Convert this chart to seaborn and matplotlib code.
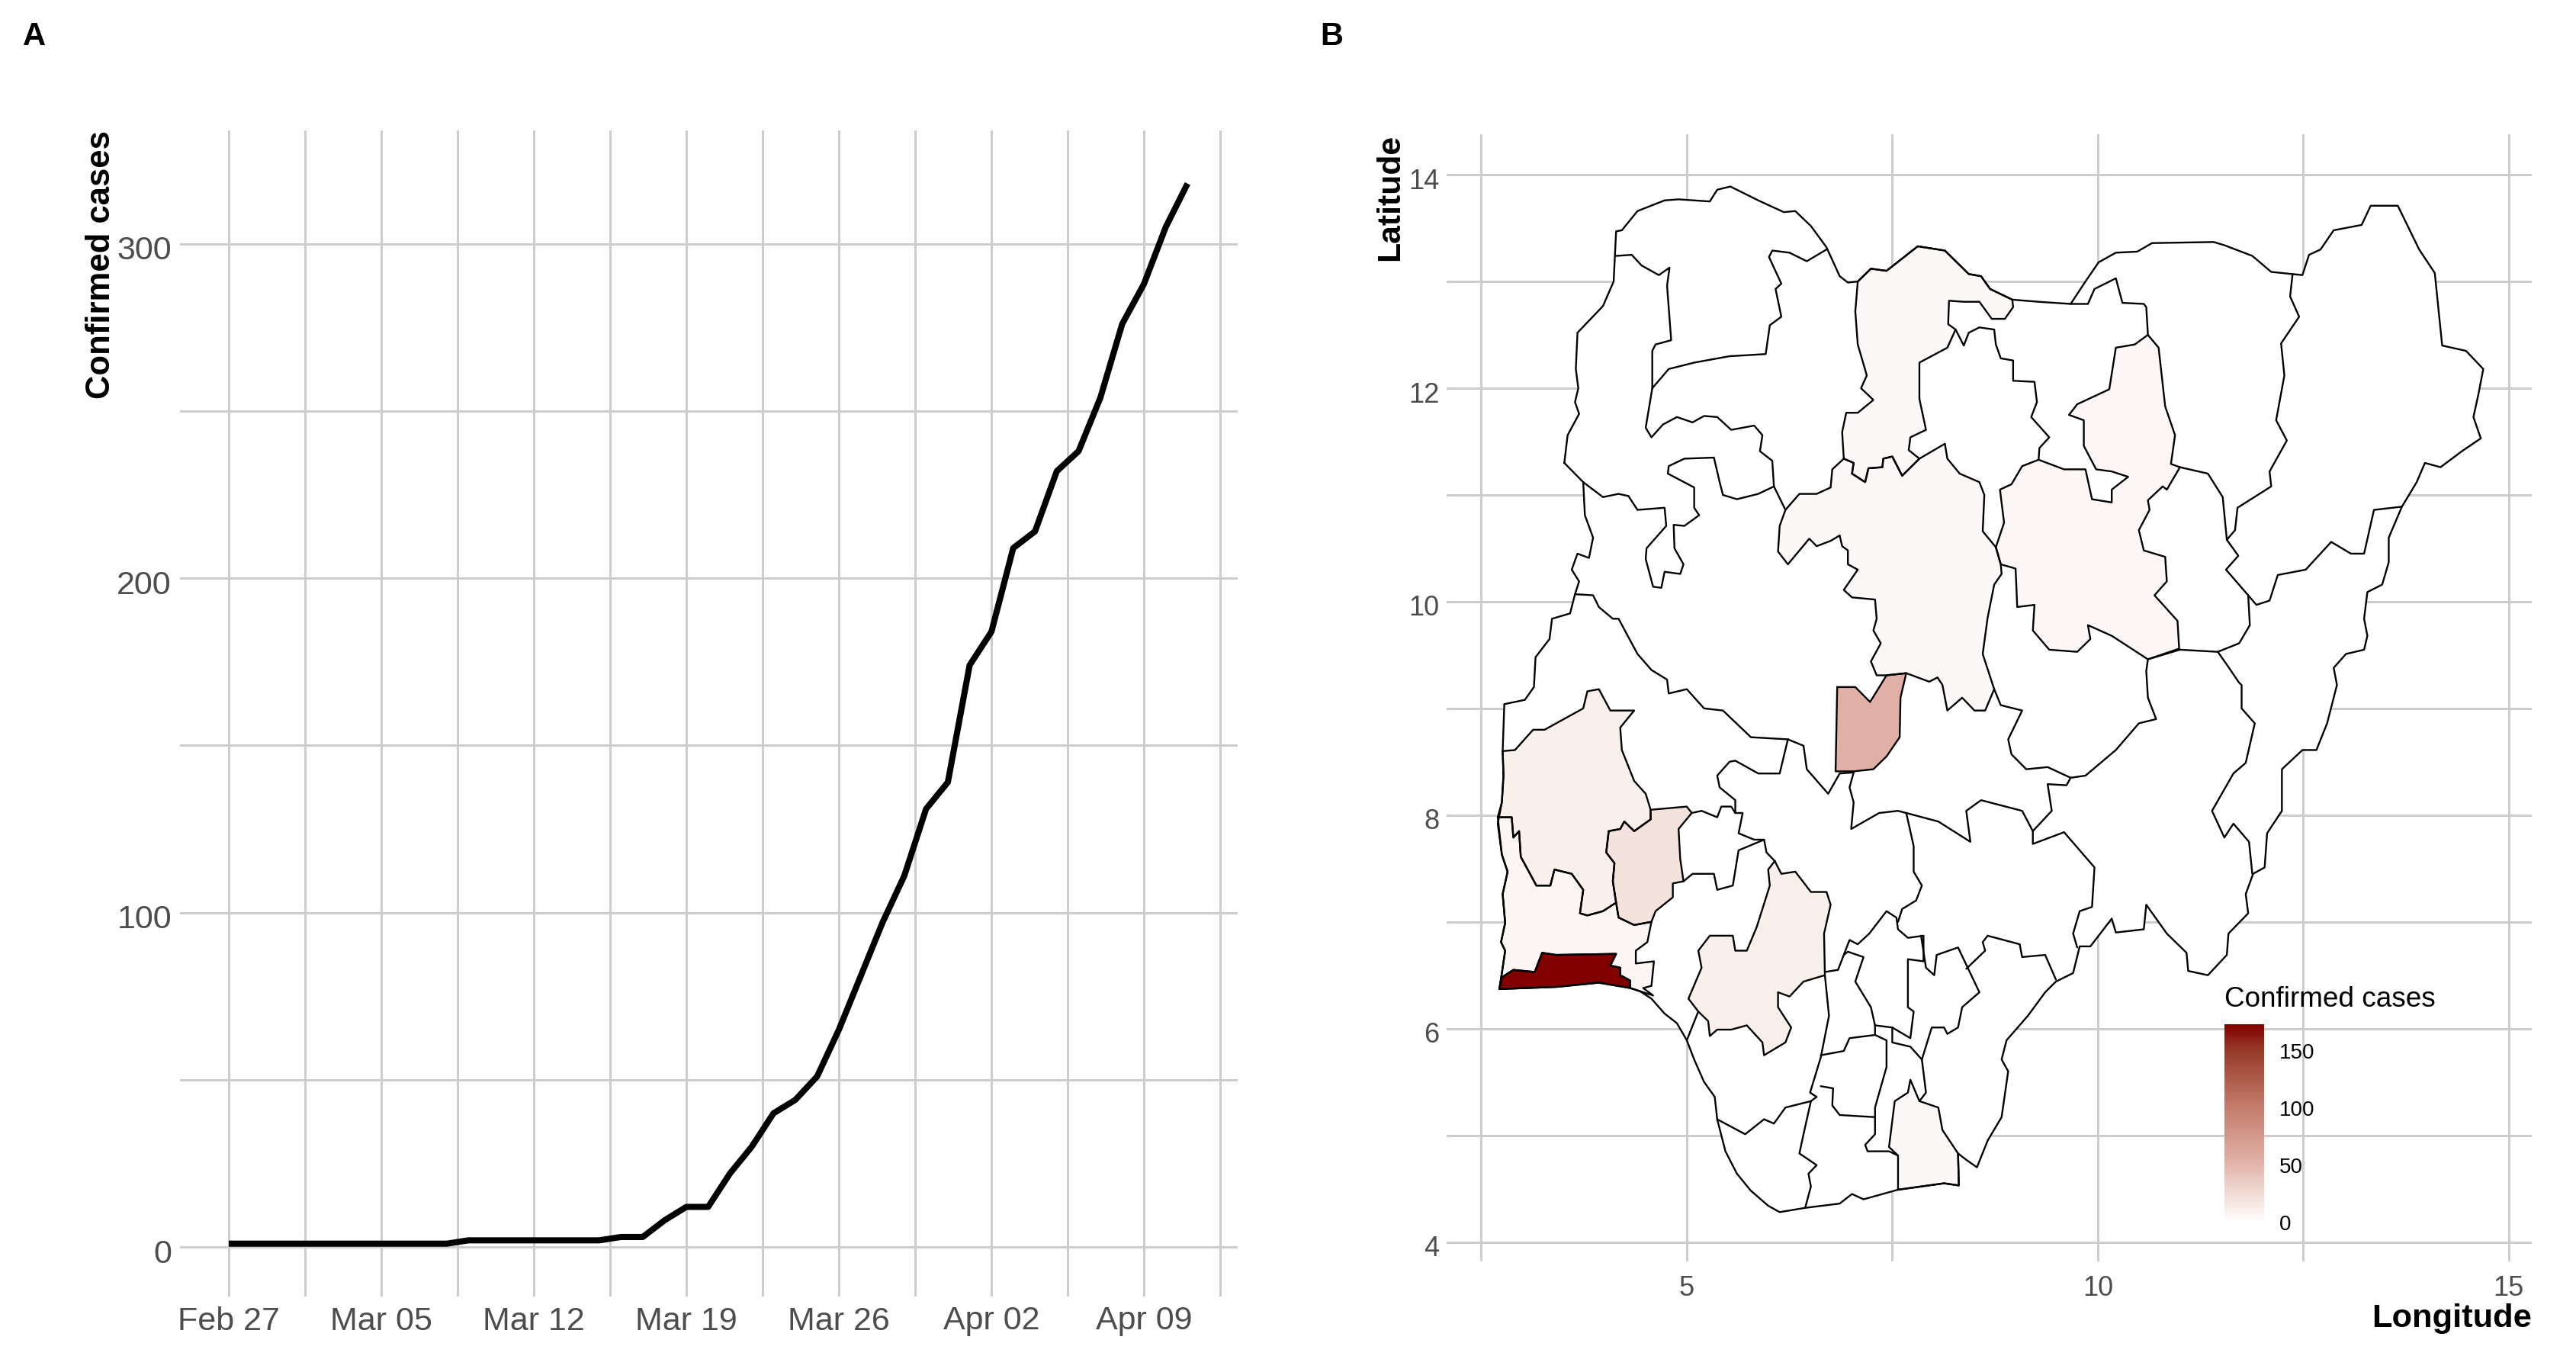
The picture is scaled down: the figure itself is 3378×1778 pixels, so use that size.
import numpy as np
import pandas as pd
import matplotlib
matplotlib.use("Agg")
import matplotlib.pyplot as plt
import matplotlib.dates as mdates
from matplotlib.cm import ScalarMappable
from matplotlib.colors import LinearSegmentedColormap, Normalize
from matplotlib.transforms import ScaledTranslation
import seaborn as sns

# panel A data
dates = pd.date_range("2020-02-27", "2020-04-11", freq="D")
cases = [1, 1, 1, 1, 1, 1, 1, 1, 1, 1, 1, 2, 2, 2, 2, 2, 2, 2, 3, 3, 8, 12, 12, 22, 30, 40, 44, 51,
         65, 81, 97, 111, 131, 139, 174, 184, 209, 214, 232, 238, 254, 276, 288, 305, 318]
date_ticks = ["2020-02-27", "2020-03-05", "2020-03-12", "2020-03-19", "2020-03-26", "2020-04-02", "2020-04-09"]
date_labels = ["Feb 27", "Mar 05", "Mar 12", "Mar 19", "Mar 26", "Apr 02", "Apr 09"]
case_ticks = [0, 100, 200, 300]
case_minor = [50, 150, 250]

# panel B data, lon/lat
nigeria = [(3.51, 11.30), (3.55, 11.56), (3.69, 11.76), (3.64, 11.87), (3.68, 12.0), (3.65, 12.18), (3.67, 12.52),
           (3.98, 12.77), (4.11, 13.0), (4.14, 13.47), (4.21, 13.48), (4.40, 13.66), (4.73, 13.76), (4.90, 13.77),
           (5.28, 13.75), (5.37, 13.86), (5.53, 13.89), (5.87, 13.76), (6.18, 13.65), (6.32, 13.66), (6.51, 13.52),
           (6.70, 13.32), (6.86, 13.05), (6.96, 12.99), (7.08, 13.0), (7.24, 13.12), (7.43, 13.10), (7.81, 13.33),
           (8.14, 13.29), (8.43, 13.07), (8.58, 13.05), (8.69, 12.93), (8.96, 12.83), (9.28, 12.81), (9.67, 12.79),
           (9.85, 13.0), (10.01, 13.18), (10.22, 13.27), (10.48, 13.28), (10.66, 13.36), (11.41, 13.37), (11.54, 13.34),
           (11.88, 13.24), (12.11, 13.09), (12.37, 13.07), (12.49, 13.06), (12.57, 13.25), (12.71, 13.30), (12.87, 13.48),
           (13.21, 13.53), (13.32, 13.71), (13.65, 13.71), (13.91, 13.30), (14.10, 13.08), (14.19, 12.40), (14.48, 12.35),
           (14.69, 12.18), (14.63, 11.94), (14.57, 11.73), (14.66, 11.53), (14.43, 11.41), (14.17, 11.26), (13.98, 11.30),
           (13.88, 11.12), (13.70, 10.89), (13.54, 10.60), (13.54, 10.37), (13.46, 10.16), (13.28, 10.09), (13.24, 9.84),
           (13.28, 9.68), (13.24, 9.55), (13.02, 9.51), (12.87, 9.38), (12.91, 9.22), (12.79, 8.86), (12.66, 8.61),
           (12.49, 8.61), (12.24, 8.43), (12.24, 8.04), (12.06, 7.83), (12.03, 7.51), (11.89, 7.45), (11.80, 7.26),
           (11.83, 7.08), (11.59, 6.89), (11.57, 6.69), (11.34, 6.50), (11.10, 6.54), (11.08, 6.71), (10.84, 6.89),
           (10.59, 7.16), (10.56, 6.93), (10.22, 6.90), (10.17, 7.03), (9.91, 6.77), (9.78, 6.77), (9.70, 6.52),
           (9.49, 6.44), (9.36, 6.34), (9.15, 6.12), (8.89, 5.89), (8.83, 5.71), (8.91, 5.60), (8.83, 5.17), (8.66, 4.95),
           (8.53, 4.70), (8.40, 4.77), (8.30, 4.83), (8.31, 4.53), (8.13, 4.55), (7.57, 4.49), (7.15, 4.40), (7.01, 4.45),
           (6.86, 4.36), (6.44, 4.32), (6.13, 4.28), (5.99, 4.34), (5.78, 4.48), (5.61, 4.64), (5.47, 4.85), (5.37, 5.15),
           (5.34, 5.36), (5.21, 5.50), (5.09, 5.71), (5.0, 5.89), (4.88, 6.05), (4.73, 6.14), (4.57, 6.28), (4.43, 6.35),
           (4.31, 6.38), (3.93, 6.43), (3.41, 6.39), (2.72, 6.37), (2.76, 6.57), (2.79, 6.73), (2.74, 6.81), (2.79, 6.99),
           (2.76, 7.26), (2.82, 7.47), (2.75, 7.63), (2.70, 7.92), (2.75, 8.12), (2.77, 8.37), (2.76, 8.60), (2.78, 9.04),
           (3.03, 9.08), (3.14, 9.20), (3.16, 9.48), (3.33, 9.65), (3.36, 9.84), (3.58, 9.89), (3.64, 10.07), (3.69, 10.19),
           (3.60, 10.30), (3.67, 10.45), (3.81, 10.41), (3.86, 10.60), (3.76, 10.81), (3.74, 11.12), (3.51, 11.30)]

kaduna = [(6.20, 10.86), (6.13, 10.71), (6.11, 10.47), (6.23, 10.35), (6.49, 10.59), (6.58, 10.52), (6.75, 10.57),
          (6.86, 10.62), (6.89, 10.52), (6.96, 10.48), (6.96, 10.35), (7.08, 10.30), (6.91, 10.11), (7.01, 10.04),
          (7.29, 10.02), (7.31, 9.84), (7.27, 9.73), (7.36, 9.61), (7.24, 9.44), (7.31, 9.31), (7.43, 9.31), (7.67, 9.33),
          (7.95, 9.25), (8.05, 9.29), (8.11, 9.22), (8.17, 8.98), (8.35, 9.10), (8.50, 8.98), (8.63, 8.98), (8.74, 9.18),
          (8.60, 9.51), (8.66, 9.85), (8.74, 10.16), (8.83, 10.26), (8.82, 10.35), (8.76, 10.51), (8.60, 10.66),
          (8.62, 11.0), (8.56, 11.12), (8.32, 11.20), (8.17, 11.34), (8.14, 11.48), (7.83, 11.34), (7.62, 11.18),
          (7.50, 11.36), (7.39, 11.34), (7.38, 11.26), (7.21, 11.25), (7.17, 11.12), (7.01, 11.20), (7.03, 11.30),
          (6.91, 11.34), (6.77, 11.24), (6.75, 11.07), (6.58, 11.01), (6.37, 11.01), (6.20, 10.86)]
katsina = [(7.08, 13.0), (7.24, 13.12), (7.43, 13.10), (7.81, 13.33), (8.14, 13.29), (8.43, 13.07), (8.58, 13.05),
           (8.69, 12.93), (8.96, 12.83), (8.97, 12.76), (8.87, 12.65), (8.71, 12.65), (8.56, 12.81), (8.37, 12.81),
           (8.19, 12.82), (8.18, 12.60), (8.27, 12.55), (8.17, 12.38), (7.83, 12.24), (7.83, 11.90), (7.91, 11.61),
           (7.72, 11.54), (7.70, 11.42), (7.83, 11.34), (7.62, 11.18), (7.50, 11.36), (7.39, 11.34), (7.38, 11.26),
           (7.21, 11.25), (7.17, 11.12), (7.01, 11.20), (7.03, 11.30), (6.91, 11.34), (6.89, 11.59), (6.94, 11.77),
           (7.08, 11.77), (7.27, 11.89), (7.12, 12.0), (7.19, 12.12), (7.08, 12.41), (7.05, 12.72), (7.08, 13.0)]
bauchi = [(8.76, 10.51), (8.86, 10.74), (8.81, 11.05), (8.95, 11.10), (9.08, 11.27), (9.28, 11.33), (9.59, 11.24),
          (9.85, 11.24), (9.93, 10.96), (10.17, 10.93), (10.17, 11.05), (10.37, 11.17), (10.17, 11.22), (9.98, 11.24),
          (9.83, 11.46), (9.83, 11.70), (9.65, 11.75), (9.75, 11.85), (10.14, 11.99), (10.22, 12.38), (10.45, 12.41),
          (10.61, 12.50), (10.74, 12.38), (10.82, 11.83), (10.94, 11.56), (10.89, 11.29), (11.0, 11.26), (10.84, 11.05),
          (10.79, 11.08), (10.61, 10.95), (10.63, 10.86), (10.50, 10.67), (10.56, 10.48), (10.82, 10.42), (10.84, 10.19),
          (10.69, 10.06), (10.97, 9.82), (10.99, 9.56), (10.61, 9.46), (10.17, 9.68), (9.88, 9.78), (9.91, 9.65),
          (9.75, 9.53), (9.41, 9.55), (9.21, 9.73), (9.23, 9.97), (9.02, 9.95), (9.0, 10.31), (8.82, 10.35), (8.76, 10.51)]
fct = [(6.83, 9.20), (7.05, 9.20), (7.23, 9.06), (7.43, 9.31), (7.67, 9.33), (7.60, 9.10), (7.59, 8.73), (7.43, 8.55),
       (7.27, 8.43), (7.03, 8.41), (6.81, 8.41), (6.83, 9.20)]
osun = [(4.56, 8.05), (5.0, 8.08), (5.06, 8.02), (4.90, 7.87), (4.92, 7.59), (4.96, 7.38), (4.83, 7.36), (4.83, 7.23),
        (4.62, 7.10), (4.57, 7.0), (4.36, 6.97), (4.17, 7.04), (4.14, 7.18), (4.10, 7.38), (4.12, 7.55), (4.02, 7.65),
        (4.05, 7.85), (4.19, 7.87), (4.24, 7.94), (4.36, 7.85), (4.56, 7.96), (4.56, 8.05)]
oyo = [(2.76, 8.60), (2.91, 8.61), (3.13, 8.80), (3.27, 8.80), (3.74, 9.0), (3.79, 9.16), (3.93, 9.18), (4.07, 8.98),
       (4.36, 8.98), (4.19, 8.82), (4.21, 8.61), (4.36, 8.32), (4.50, 8.20), (4.56, 8.05), (4.56, 7.96), (4.36, 7.85),
       (4.24, 7.94), (4.19, 7.87), (4.05, 7.85), (4.02, 7.65), (4.12, 7.55), (4.10, 7.38), (4.14, 7.18), (3.98, 7.10),
       (3.79, 7.06), (3.70, 7.08), (3.74, 7.30), (3.60, 7.45), (3.39, 7.49), (3.34, 7.34), (3.17, 7.34), (2.98, 7.61),
       (2.96, 7.85), (2.89, 7.79), (2.87, 7.98), (2.70, 7.98), (2.75, 8.12), (2.77, 8.37), (2.76, 8.60)]
ogun = [(2.70, 7.98), (2.87, 7.98), (2.89, 7.79), (2.96, 7.85), (2.98, 7.61), (3.17, 7.34), (3.34, 7.34), (3.39, 7.49),
        (3.60, 7.45), (3.74, 7.30), (3.70, 7.08), (3.79, 7.06), (3.98, 7.10), (4.14, 7.18), (4.17, 7.04), (4.36, 6.97),
        (4.57, 7.0), (4.52, 6.81), (4.38, 6.73), (4.38, 6.61), (4.60, 6.63), (4.57, 6.40), (4.47, 6.38), (4.59, 6.31),
        (4.43, 6.35), (4.31, 6.38), (4.31, 6.45), (4.19, 6.50), (4.19, 6.57), (4.07, 6.59), (4.14, 6.70), (3.41, 6.69),
        (3.24, 6.71), (3.15, 6.53), (2.89, 6.55), (2.75, 6.48), (2.72, 6.37), (2.76, 6.57), (2.79, 6.73), (2.74, 6.81),
        (2.79, 6.99), (2.76, 7.26), (2.82, 7.47), (2.75, 7.63), (2.70, 7.98)]
lagos = [(2.72, 6.37), (2.75, 6.48), (2.89, 6.55), (3.15, 6.53), (3.24, 6.71), (3.41, 6.69), (4.14, 6.70), (4.07, 6.59),
         (4.19, 6.57), (4.19, 6.50), (4.31, 6.45), (4.31, 6.38), (3.93, 6.43), (3.41, 6.39), (2.72, 6.37)]
edo = [(6.07, 7.57), (6.15, 7.45), (6.32, 7.47), (6.51, 7.28), (6.70, 7.28), (6.75, 7.16), (6.67, 6.89), (6.68, 6.50),
       (6.42, 6.44), (6.25, 6.30), (6.11, 6.34), (6.11, 6.20), (6.27, 6.01), (6.20, 5.87), (5.94, 5.75), (5.92, 5.87),
       (5.73, 6.03), (5.54, 5.99), (5.37, 5.99), (5.28, 5.93), (5.26, 6.07), (5.14, 6.16), (5.02, 6.28), (5.18, 6.57),
       (5.14, 6.73), (5.28, 6.87), (5.56, 6.87), (5.59, 6.73), (5.73, 6.73), (5.85, 6.95), (6.01, 7.34), (5.99, 7.49),
       (6.07, 7.57)]
akwa_ibom = [(7.57, 4.49), (7.57, 4.81), (7.46, 4.89), (7.53, 5.32), (7.69, 5.40), (7.72, 5.52), (7.83, 5.32),
             (8.06, 5.26), (8.11, 5.05), (8.30, 4.83), (8.31, 4.53), (8.13, 4.55), (7.57, 4.49)]

state_shapes = [kaduna, katsina, bauchi, fct, osun, oyo, ogun, lagos, edo, akwa_ibom]
state_cases = [5, 5, 6, 54, 20, 11, 7, 173, 12, 5]

# inner borders of the states without cases
sokoto_zamfara = [(4.14, 13.24), (4.33, 13.25), (4.45, 13.15), (4.66, 13.06), (4.79, 13.13), (4.76, 12.96), (4.81, 12.45),
                  (4.62, 12.41), (4.58, 12.35), (4.58, 12.0), (4.50, 11.63), (4.57, 11.54), (4.71, 11.66), (4.88, 11.73),
                  (5.07, 11.68), (5.21, 11.74), (5.37, 11.73), (5.54, 11.61), (5.82, 11.65), (5.92, 11.56), (5.89, 11.41),
                  (6.04, 11.32), (6.06, 11.08)]
zamfara_north = [(4.58, 12.0), (4.78, 12.18), (5.09, 12.24), (5.52, 12.30), (5.96, 12.32), (6.01, 12.59), (6.15, 12.67),
                 (6.08, 12.93), (6.15, 12.98), (6.0, 13.23), (6.04, 13.29), (6.25, 13.27), (6.46, 13.19), (6.70, 13.30)]
kebbi_niger = [(3.74, 11.12), (3.98, 10.98), (4.17, 11.01), (4.29, 10.99), (4.40, 10.86), (4.73, 10.88), (4.75, 10.71),
               (4.51, 10.50), (4.50, 10.40), (4.59, 10.14), (4.69, 10.13), (4.73, 10.28), (4.92, 10.26), (4.96, 10.35),
               (4.85, 10.50), (4.84, 10.72), (4.97, 10.71), (5.15, 10.81), (5.09, 10.88), (5.09, 11.07), (4.77, 11.20),
               (4.78, 11.27), (4.97, 11.34), (5.33, 11.35), (5.40, 11.12), (5.44, 11.0), (5.61, 10.96), (5.87, 11.01),
               (6.06, 11.08), (6.20, 10.86)]
kano_jigawa = [(8.27, 12.55), (8.37, 12.40), (8.43, 12.52), (8.56, 12.57), (8.74, 12.55), (8.76, 12.41), (8.82, 12.28),
               (8.97, 12.26), (8.97, 12.07), (9.23, 12.06), (9.26, 11.87), (9.19, 11.73), (9.41, 11.54), (9.29, 11.44),
               (9.28, 11.33)]
jigawa_yobe = [(10.61, 12.50), (10.59, 12.76), (10.56, 12.79), (10.30, 12.80), (10.22, 13.03), (9.96, 12.93), (9.88, 12.79),
               (9.67, 12.79)]
gombe = [(11.0, 11.26), (11.34, 11.20), (11.52, 10.98), (11.57, 10.58), (11.71, 10.43), (11.56, 10.30), (11.83, 10.06),
         (11.85, 9.78), (11.72, 9.61), (11.46, 9.53), (11.0, 9.55), (10.61, 9.46)]
borno_west = [(12.37, 13.07), (12.34, 12.86), (12.45, 12.67), (12.23, 12.42), (12.27, 12.12), (12.17, 11.70), (12.30, 11.51),
              (12.09, 11.22), (12.11, 11.08), (11.70, 10.88), (11.67, 10.67), (11.57, 10.58)]
borno_south = [(11.83, 10.06), (11.93, 9.97), (12.09, 10.01), (12.19, 10.25), (12.53, 10.30), (12.84, 10.56), (13.08, 10.45),
               (13.24, 10.45), (13.36, 10.86), (13.70, 10.89)]
adamawa_taraba = [(11.46, 9.53), (11.57, 9.41), (11.72, 9.24), (11.75, 9.22), (11.75, 9.0), (11.91, 8.86), (11.80, 8.49),
                  (11.65, 8.39), (11.39, 8.04), (11.54, 7.79), (11.65, 7.92), (11.84, 7.75), (11.88, 7.45)]
plateau_south = [(10.61, 9.46), (10.59, 9.35), (10.61, 9.10), (10.71, 8.90), (10.50, 8.86), (10.22, 8.61), (9.85, 8.37),
                 (9.67, 8.35), (9.39, 8.45), (9.13, 8.43), (8.95, 8.57), (8.91, 8.71), (9.08, 8.98), (8.82, 9.03), (8.74, 9.18)]
taraba_benue = [(9.67, 8.35), (9.62, 8.28), (9.39, 8.29), (9.44, 8.04), (9.21, 7.85), (9.21, 7.73), (9.59, 7.84), (9.96, 7.51),
                (9.93, 7.14), (9.78, 7.10), (9.70, 6.89), (9.75, 6.76)]
nasarawa_south = [(7.03, 8.40), (6.98, 8.26), (7.03, 8.12), (7.0, 7.87), (7.34, 8.02), (7.57, 8.04), (7.67, 8.02), (8.06, 7.94),
                  (8.45, 7.75), (8.40, 8.04), (8.58, 8.14), (9.08, 8.04), (9.21, 7.85)]
kogi_benue = [(7.67, 8.02), (7.76, 7.71), (7.76, 7.47), (7.86, 7.34), (7.79, 7.20), (7.62, 7.12), (7.57, 7.0)]
enugu = [(6.68, 6.53), (6.84, 6.55), (6.91, 6.69), (6.98, 6.83), (7.08, 6.79), (7.22, 6.89), (7.43, 7.10), (7.55, 7.04),
         (7.57, 6.93), (7.69, 6.85), (7.88, 6.87), (7.88, 6.63), (7.69, 6.65), (7.69, 6.20), (7.76, 6.16), (7.72, 5.91),
         (7.50, 6.01), (7.29, 6.03)]
anambra = [(6.91, 6.69), (6.96, 6.72), (7.15, 6.67), (7.05, 6.44), (7.24, 6.20), (7.29, 6.03), (7.29, 5.94)]
imo_abia = [(6.63, 5.75), (6.91, 5.79), (6.98, 5.91), (7.29, 5.94), (7.43, 5.89), (7.43, 5.64), (7.29, 5.26), (7.29, 5.01),
            (7.17, 4.91), (7.20, 4.85), (7.46, 4.85), (7.57, 4.81)]
delta_east = [(6.68, 6.50), (6.73, 6.12), (6.63, 5.73), (6.50, 5.40), (6.58, 5.36), (6.51, 5.32), (6.20, 5.26), (6.06, 5.11),
              (5.94, 5.15), (5.71, 5.01), (5.37, 5.15)]
bayelsa = [(6.51, 5.32), (6.42, 5.01), (6.37, 4.83), (6.58, 4.72), (6.48, 4.64), (6.51, 4.52), (6.44, 4.32)]
imo_rivers = [(6.63, 5.46), (6.78, 5.44), (6.77, 5.28), (6.86, 5.19), (7.29, 5.17)]
abia_ebonyi = [(7.50, 6.01), (7.50, 5.87), (7.72, 5.83), (7.86, 5.71), (7.98, 6.01), (8.13, 6.01), (8.17, 5.95), (8.30, 6.01),
               (8.35, 6.20), (8.56, 6.34), (8.30, 6.76), (8.04, 6.69), (8.01, 6.50), (7.91, 6.57), (7.85, 6.87)]
cross_river = [(8.40, 6.56), (8.63, 6.73), (8.60, 6.81), (8.66, 6.87), (9.05, 6.79), (9.08, 6.67), (9.36, 6.69), (9.49, 6.46)]
abia_cross = [(7.86, 5.71), (7.91, 5.40), (7.83, 5.32)]
ondo_ekiti = [(4.96, 7.38), (5.07, 7.45), (5.33, 7.45), (5.37, 7.30), (5.56, 7.34), (5.63, 7.67), (5.94, 7.77), (5.97, 7.65),
              (6.07, 7.57)]
ekiti_kwara = [(5.06, 8.02), (5.18, 8.04), (5.37, 7.98), (5.42, 8.08), (5.54, 8.08), (5.59, 8.02), (5.68, 8.02), (5.63, 7.83),
               (5.82, 7.77), (5.94, 7.77)]
kwara_kogi = [(5.59, 8.02), (5.59, 8.14), (5.40, 8.26), (5.37, 8.37), (5.52, 8.50), (5.59, 8.51), (5.87, 8.39), (6.13, 8.39),
              (6.23, 8.71)]
niger_kwara = [(3.64, 10.07), (3.86, 10.06), (3.93, 9.95), (4.10, 9.84), (4.17, 9.84), (4.40, 9.51), (4.57, 9.36), (4.76, 9.27),
               (4.78, 9.14), (5.0, 9.18), (5.21, 9.0), (5.44, 8.98), (5.78, 8.73), (6.23, 8.71)]
niger_kogi = [(6.23, 8.71), (6.42, 8.65), (6.46, 8.43), (6.72, 8.20), (6.86, 8.39), (7.03, 8.40)]
ondo_delta = [(5.14, 6.16), (5.0, 5.89)]

border_lines = [nigeria, sokoto_zamfara, zamfara_north, kebbi_niger, kano_jigawa, jigawa_yobe, gombe, borno_west, borno_south,
                adamawa_taraba, plateau_south, taraba_benue, nasarawa_south, kogi_benue, enugu, anambra, imo_abia, delta_east,
                bayelsa, imo_rivers, abia_ebonyi, cross_river, abia_cross, ondo_ekiti, ekiti_kwara, kwara_kogi, niger_kwara,
                niger_kogi, ondo_delta] + state_shapes

lon_ticks = [5, 10, 15]
lon_minor = [2.5, 7.5, 12.5]
lat_ticks = [4, 6, 8, 10, 12, 14]
lat_minor = [5, 7, 9, 11, 13]
legend_ticks = [0, 50, 100, 150]
legend_max = 173

W, H, DPI = 3378, 1778, 200
GREY = "#cccccc"
TICK = "#4d4d4d"

sns.set_theme(style="whitegrid", rc={"grid.color": GREY, "grid.linewidth": 1.05, "axes.axisbelow": True,
                                     "xtick.bottom": False, "ytick.left": False})
plt.rcParams["font.family"] = ["Liberation Sans", "DejaVu Sans"]


def box(x0, y0, x1, y1):
    return [x0 / W, 1 - y1 / H, (x1 - x0) / W, (y1 - y0) / H]


fig = plt.figure(figsize=(W / DPI, H / DPI), dpi=DPI, facecolor="white")
low_shift = ScaledTranslation(0, -5 / DPI, fig.dpi_scale_trans)

# A: national curve
ax1 = fig.add_axes(box(236, 171, 1623, 1700))
df = pd.DataFrame({"date": dates, "cases": cases})
sns.lineplot(data=df, x="date", y="cases", color="black", linewidth=2.9, solid_capstyle="butt", ax=ax1)
tick_dates = pd.to_datetime(date_ticks)
ax1.set_xticks(tick_dates)
ax1.set_xticklabels(date_labels)
ax1.set_xticks(tick_dates + pd.Timedelta(hours=84), minor=True)
ax1.set_yticks(case_ticks)
ax1.set_yticks(case_minor, minor=True)
ax1.set_xlim(mdates.date2num(pd.Timestamp("2020-02-27")) - 2.24, mdates.date2num(pd.Timestamp("2020-02-27")) + 46.3)
ax1.set_ylim(-14.8, 333.9)
ax1.grid(which="both", color=GREY, linewidth=1.05)
ax1.tick_params(which="both", length=0)
ax1.tick_params(axis="both", labelsize=15.5, labelcolor=TICK)
ax1.tick_params(axis="x", pad=4.5)
ax1.tick_params(axis="y", pad=4)
ax1.set_xlabel("")
ax1.set_ylabel("Confirmed cases", loc="top", fontweight="bold", fontsize=15.7, color="black")
ax1.yaxis.set_label_coords(-0.06, 1.0)
for lab in ax1.get_yticklabels():
    lab.set_transform(lab.get_transform() + low_shift)
sns.despine(ax=ax1, left=True, bottom=True)

# B: state map
cmap = LinearSegmentedColormap.from_list("cases", [(0, "#ffffff"), (0.11, "#f4e4de"), (0.31, "#e0b0a6"), (0.58, "#c47d6c"),
                                                   (0.87, "#973a2a"), (1, "#800000")])
norm = Normalize(0, legend_max)
ax2 = fig.add_axes(box(1897, 176, 3320, 1654))
ax2.fill(*zip(*nigeria), facecolor="white", edgecolor="none", zorder=2)
for shape, value in zip(state_shapes, state_cases):
    ax2.fill(*zip(*shape), facecolor=cmap(norm(value)), edgecolor="none", zorder=2.5)
borders = pd.concat([pd.DataFrame(line, columns=["lon", "lat"]).assign(part=i) for i, line in enumerate(border_lines)])
sns.lineplot(data=borders, x="lon", y="lat", units="part", estimator=None, sort=False, color="black", linewidth=0.85,
             zorder=3, ax=ax2)
ax2.set_xticks(lon_ticks)
ax2.set_xticks(lon_minor, minor=True)
ax2.set_yticks(lat_ticks)
ax2.set_yticks(lat_minor, minor=True)
ax2.set_xlim(2.078, 15.28)
ax2.set_ylim(3.818, 14.38)
ax2.grid(which="both", color=GREY, linewidth=1.05)
ax2.tick_params(which="both", length=0)
ax2.tick_params(axis="both", labelsize=13, labelcolor=TICK)
ax2.tick_params(axis="x", pad=6.5)
ax2.tick_params(axis="y", pad=3.5)
ax2.set_xlabel("Longitude", loc="right", fontweight="bold", fontsize=15.6, color="black")
ax2.xaxis.set_label_coords(1.0, -0.0372)
ax2.set_ylabel("Latitude", loc="top", fontweight="bold", fontsize=15.4, color="black")
ax2.yaxis.set_label_coords(-0.038, 1.0)
for lab in ax2.get_yticklabels():
    lab.set_transform(lab.get_transform() + low_shift)
sns.despine(ax=ax2, left=True, bottom=True)

# legend
cax = fig.add_axes(box(2917, 1343, 2969, 1603))
cbar = fig.colorbar(ScalarMappable(norm=norm, cmap=cmap), cax=cax)
cbar.outline.set_visible(False)
cbar.set_ticks(legend_ticks)
cax.tick_params(axis="y", which="major", left=True, right=True, direction="in", length=3.7, width=0.8, color="white",
                labelsize=10, labelcolor="black", pad=7)
fig.text(2917 / W, 1 - 1310 / H, "Confirmed cases", fontsize=13.3, color="black", ha="left", va="center")

fig.text(30 / W, 1 - 48 / H, "A", fontsize=15, fontweight="bold", color="black", ha="left", va="center")
fig.text(1731 / W, 1 - 48 / H, "B", fontsize=15, fontweight="bold", color="black", ha="left", va="center")

fig.savefig("out.png", dpi=DPI, facecolor="white")
